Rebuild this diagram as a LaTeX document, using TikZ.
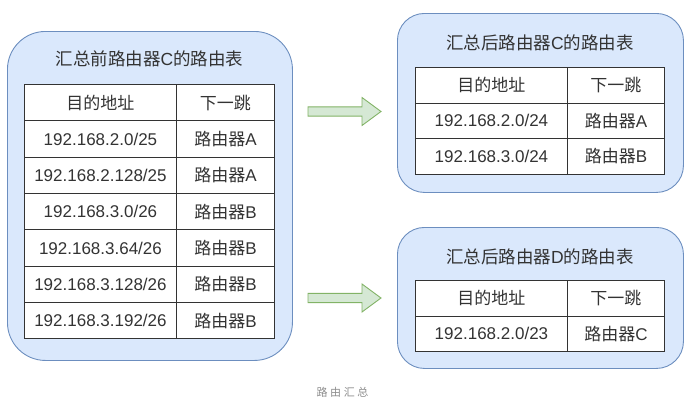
\documentclass[tikz,border=0pt]{standalone}
\usepackage{fontspec}
\usetikzlibrary{calc}
\setmainfont{Liberation Sans}
\newfontfamily\cjk{Noto Sans CJK SC}
\definecolor{boxfill}{HTML}{DAE8FC}
\definecolor{boxline}{HTML}{6C8EBF}
\definecolor{arrfill}{HTML}{D5E8D4}
\definecolor{arrline}{HTML}{82B366}
\definecolor{txt}{HTML}{333333}
\definecolor{captxt}{HTML}{8C8C8C}
\newcommand{\Rt}[1]{{\cjk 路由器}#1}
\begin{document}
\begin{tikzpicture}[x=1pt,y=-1pt,
  panel/.style={draw=boxline, fill=boxfill, line width=0.9pt, anchor=north west, inner sep=0pt},
  paneltitle/.style={text=txt, font=\fontsize{17.5}{20}\selectfont, inner sep=0pt},
  tcell/.style={draw=txt, fill=white, line width=0.9pt, anchor=north west, inner sep=0pt,
    text=txt, font=\fontsize{17}{20}\selectfont, minimum height=#1},
  colone/.style={minimum width=152pt},
  coltwo/.style={minimum width=98pt},
  flowarrow/.style={draw=arrline, fill=arrfill, line width=0.9pt, line join=miter},
  captionlabel/.style={text=captxt, font=\fontsize{11}{13}\selectfont, inner sep=0pt}
]
\useasboundingbox (0,0) rectangle (694,415);

% panels
\node[panel, rounded corners=38pt, minimum width=285pt, minimum height=329pt] (L) at (7,31) {};
\node[panel, rounded corners=27pt, minimum width=286pt, minimum height=179pt] (R1) at (397,13) {};
\node[panel, rounded corners=27pt, minimum width=286pt, minimum height=141pt] (R2) at (397,227) {};

% titles
\node[paneltitle] (tL) at (149.5,59) {{\cjk 汇总前路由器}C{\cjk 的路由表}};
\node[paneltitle] (tR1) at (540,43) {{\cjk 汇总后路由器}C{\cjk 的路由表}};
\node[paneltitle] (tR2) at (540,257) {{\cjk 汇总后路由器}D{\cjk 的路由表}};

% left table
\foreach \i/\a/\b in {0/{\cjk 目的地址}/{\cjk 下一跳},
                      1/192.168.2.0\slash 25/\Rt{A},
                      2/192.168.2.128\slash 25/\Rt{A},
                      3/192.168.3.0\slash 26/\Rt{B},
                      4/192.168.3.64\slash 26/\Rt{B},
                      5/192.168.3.128\slash 26/\Rt{B},
                      6/192.168.3.192\slash 26/\Rt{B}}{
  \node[tcell=36.33pt, colone] (La\i) at (24,84+36.33*\i) {\a};
  \node[tcell=36.33pt, coltwo] (Lb\i) at (176,84+36.33*\i) {\b};
}

% top-right table
\foreach \i/\a/\b in {0/{\cjk 目的地址}/{\cjk 下一跳},
                      1/192.168.2.0\slash 24/\Rt{A},
                      2/192.168.3.0\slash 24/\Rt{B}}{
  \node[tcell=35.5pt, colone] (Ra\i) at (415,67+35.5*\i) {\a};
  \node[tcell=35.5pt, coltwo, minimum width=97pt] (Rb\i) at (567,67+35.5*\i) {\b};
}

% bottom-right table
\foreach \i/\a/\b in {0/{\cjk 目的地址}/{\cjk 下一跳},
                      1/192.168.2.0\slash 23/\Rt{C}}{
  \node[tcell=35.5pt, colone] (Sa\i) at (415,280+35.5*\i) {\a};
  \node[tcell=35.5pt, coltwo, minimum width=97pt] (Sb\i) at (567,280+35.5*\i) {\b};
}

% arrows
\coordinate (A1) at (308,111.5);
\coordinate (A2) at (308,298);
\foreach \c in {A1,A2}{
  \draw[flowarrow] ($(\c)+(0,-4.6)$) -- ++(54,0) -- ++(0,-9.4) -- ++(19,14) -- ++(-19,14) -- ++(0,-9.4) -- ++(-54,0) -- cycle;
}

% caption
\node[captionlabel] (capt) at (342.5,392) {{\cjk 路\hspace{2.6pt}由\hspace{2.6pt}汇\hspace{2.6pt}总}};
\end{tikzpicture}
\end{document}
